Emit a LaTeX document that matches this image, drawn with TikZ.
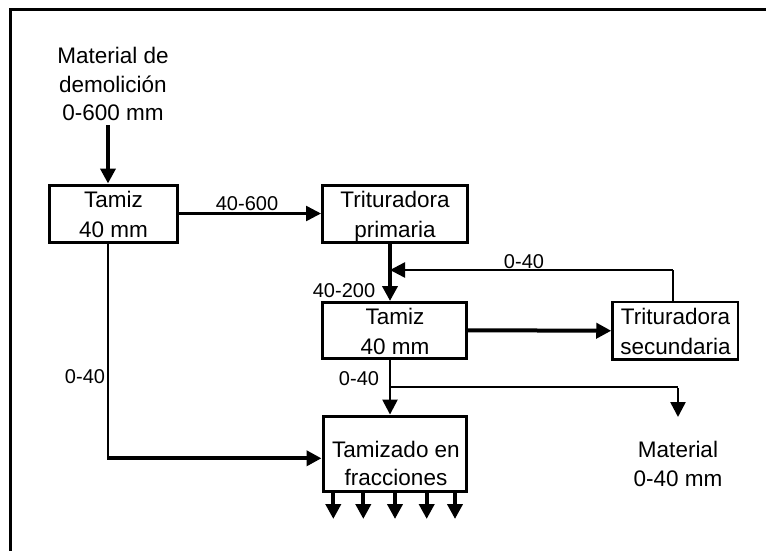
\documentclass[tikz,border=0pt]{standalone}
\usepackage{fontspec}
\setmainfont{Liberation Sans}
\usetikzlibrary{arrows.meta}
\tikzset{
  procbox/.style={draw, line width=3pt, inner sep=0pt, fill=none},
  boxtext/.style={anchor=north, inner sep=0pt, align=center, font=\fontsize{22.5}{30}\selectfont},
  freetext/.style={anchor=north, inner sep=0pt, align=center, font=\fontsize{22.5}{28.5}\selectfont},
  flowlabel/.style={anchor=base, inner sep=0pt, font=\fontsize{20}{24}\selectfont},
  tip/.style={-{Triangle[width=15pt,length=15pt]}},
  thinline/.style={line width=1.5pt},
  midline/.style={line width=2.5pt},
  thickline/.style={line width=4pt},
}
\begin{document}
\begin{tikzpicture}[x=1pt,y=-1pt]
\useasboundingbox (0,0) rectangle (766,550);
% frame
\draw[line width=3pt] (767,9.7) -- (10.5,9.7) -- (10.5,551);

% boxes
\node[procbox, minimum width=127.5pt, minimum height=57pt] (t1) at (113.25,213.5) {};
\node[procbox, minimum width=144.5pt, minimum height=57pt] (p1) at (394.75,213.5) {};
\node[procbox, minimum width=144pt, minimum height=55.5pt] (t2) at (394.5,330.25) {};
\node[procbox, line width=2.5pt, minimum width=125.5pt, minimum height=57.5pt] (s2) at (675.25,330.75) {};
\node[procbox, minimum width=143pt, minimum height=75.7pt] (f) at (394.5,453.9) {};

% texts
\node[freetext] (src) at (113,47) {Material de\\demolición\\0-600 mm};
\node[boxtext] (t1txt) at (113.5,191) {Tamiz\\40 mm};
\node[boxtext] (p1txt) at (395,191) {Trituradora\\primaria};
\node[boxtext] (t2txt) at (395,307.5) {Tamiz\\40 mm};
\node[boxtext] (s2txt) at (675.5,307.5) {Trituradora\\secundaria};
\node[boxtext, font=\fontsize{22.5}{28.3}\selectfont] (ftxt) at (396,441) {Tamizado en\\fracciones};
\node[freetext] (mat) at (678,441.2) {Material\\0-40 mm};

% labels
\node[flowlabel] (l1) at (247,210) {40-600};
\node[flowlabel] (l2) at (524,268) {0-40};
\node[flowlabel] (l3) at (344,297) {40-200};
\node[flowlabel] (l4) at (85,383) {0-40};
\node[flowlabel] (l5) at (359,385) {0-40};

% helper coordinates
\coordinate (inTop) at (108,125);
\coordinate (colA) at (108,458.3);
\coordinate (colB) at (390,0);
\coordinate (fbR) at (673,270);
\coordinate (fbL) at (390,270);
\coordinate (brL) at (391,387);
\coordinate (brR) at (678,387);
\coordinate (brEnd) at (678,417);

% connectors
\draw[thickline, tip] (inTop) -- (inTop |- t1.north);
\draw[midline, tip] (t1.east) -- (p1.west);
\draw[thickline, tip] (p1.south -| colB) -- (t2.north -| colB);
\draw[thinline] (s2.north -| fbR) -- (fbR);
\draw[midline, tip] (fbR) -- (fbL);
\draw[thickline, tip] (t2.east) -- (s2.west);
\draw[midline, tip] (t2.south -| colB) -- (f.north -| colB);
\draw[thinline] (brL) -- (brR);
\draw[midline, tip] ([yshift=-0.75pt]brR) -- (brEnd);
\draw[thinline] (t1.south -| colA) -- (colA);
\draw[thickline, tip] ([xshift=-0.75pt]colA) -- (f.west |- colA);
\foreach \xx [count=\i] in {333.3,363.3,395,426.7,455}{
  \coordinate (o\i) at (\xx,519);
  \draw[thickline, tip] (f.south -| o\i) -- (o\i);
}
\end{tikzpicture}
\end{document}
